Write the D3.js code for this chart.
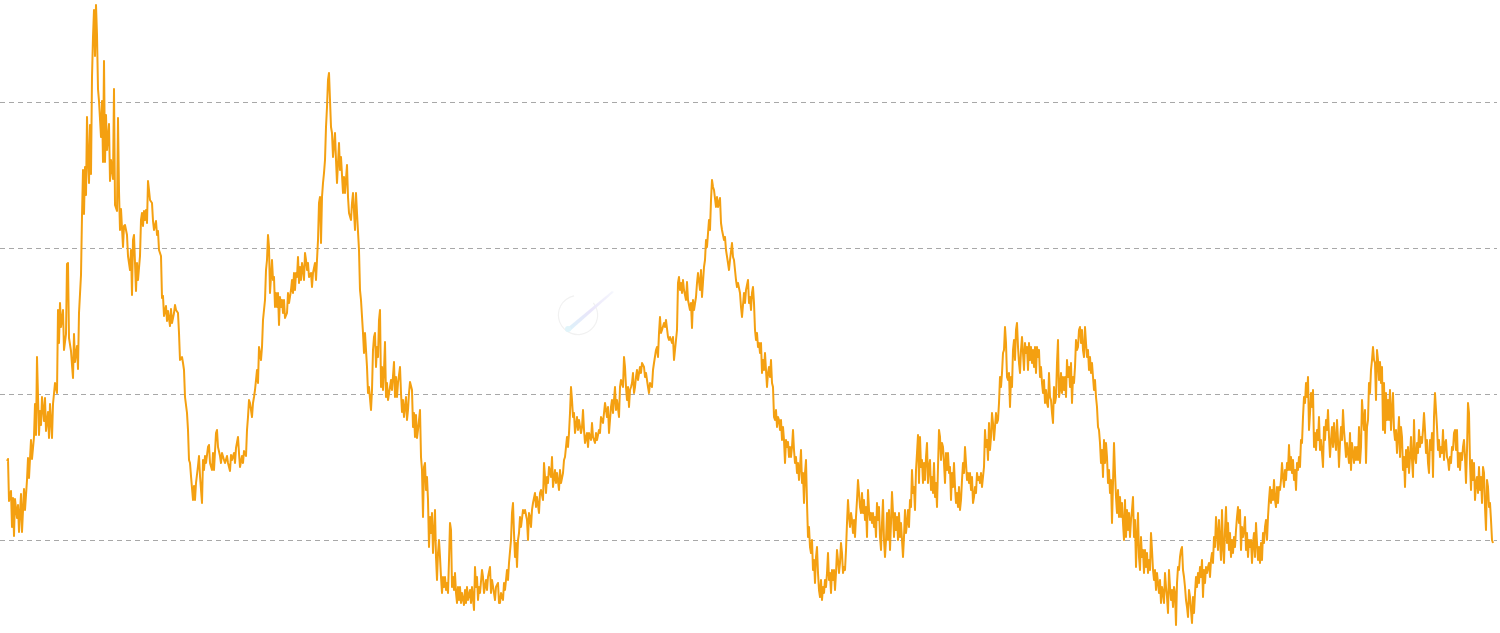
<!DOCTYPE html>
<html><head><meta charset="utf-8">
<script src="https://cdn.jsdelivr.net/npm/d3@7"></script>
<style>html,body{margin:0;padding:0;background:#fff;overflow:hidden}svg{display:block}</style>
</head><body>
<svg id="chart" width="1500" height="633"></svg>
<script>
// reference levels (split lines)
const gridLevels = [100, 246, 392, 538];

// early observations: [day, value] (irregular spacing)
const earlyObs = [
[0,179],[1,181],[2,139],[4,149],[5,113],[6,142],[7,104],[8,141],[10,122],[11,135],[12,108],[14,146],[15,108],[17,151],[18,130],[20,160],[21,182],[22,162],[24,200],[25,181],[27,203],[28,236],[29,205],[30,283],[32,205],[33,229],[34,215],[35,243],[37,219],[38,242],[39,209],[41,228],[42,202],[43,236],[45,202],[46,236],[48,257],[50,247],[51,330],[52,297],[53,337],[54,313],[56,330],[57,290],[59,306],[60,376],[61,377],[62,302],[64,289],[65,275],[66,262],[67,306],[68,278],[70,294],[71,271],[72,327],[74,365],[75,424],[76,470],[77,426],[78,473],[79,445],[80,523],[81,480],[82,457],[83,515],[84,466],[85,563],[86,603],[87,630],[88,584],[89,635],[90,605],[91,551],[92,539],[94,503],[95,539],[96,478],[97,579],[98,478],[99,525],[100,490],[102,516],[103,459],[104,480],[106,461],[107,551],[108,435],[110,429],[111,522],[112,449],[113,410],[114,431],[116,393],[117,414],
[118,415],[120,405],[121,384],[123,370],[124,390],[125,345],[126,400],[127,405],[129,349],[130,377],[131,360],[133,384],[134,420],[135,427],[136,414],[137,429],[138,420],[139,430],[140,417],[141,459],[142,450],[143,440],[145,437],[146,419],[147,410],[149,419],[150,405],[151,409],[152,390],[154,384],[155,342],[156,344],[157,324],[159,334],[160,319],[161,329],[163,314],[164,331],[165,317],[167,327],[168,335],[169,330],[171,327],[172,307],[173,280],[175,283],[176,277],[177,270],[178,243],[180,227],[181,210],[182,180],[183,177],[184,164],[186,140],[187,154],[188,140],[189,157],[191,174],[192,184],[193,164],[195,137],[196,180],[197,170],[198,184],[199,177],[201,193],[202,195],[203,177],[205,170],[206,187],[207,170],[209,207],[210,210],[211,193],[213,184],[214,177],[215,187],[217,180],[218,177],[220,184],[221,177],[223,169],[224,185],[225,180],[227,187],[228,177],[229,192],[231,203],[232,187],[233,173],[235,184],[236,177],[237,189],[239,184],[240,210],[241,223],[242,240],
[243,237],[245,223],[246,237],[247,243],[248,250],[250,270],[251,257],[252,293],[254,280],[255,293],[256,320],[258,340],[259,370],[260,380],[261,405],[262,393],[263,347],[264,363],[265,380],[266,360],[267,363],[268,333],[269,347],[270,333],[271,347],[272,315],[273,343],[274,333],[275,340],[276,327],[277,340],[278,322],[280,327],[281,347],[282,337],[284,350],[285,360],[286,347],[287,367],[288,350],[289,367],[290,363],[291,383],[292,357],[293,373],[294,360],[295,377],[296,370],[297,360],[298,387],[299,380],[300,370],[301,377],[302,363],[304,367],[305,353],[306,367],[308,377],[309,360],[310,380],[311,400],[312,437],[313,443],[314,397],[315,443],[316,457],[317,467],[318,480],[319,513],[320,533],[321,560],[322,567],[323,540],[324,513],[325,507],[326,483],[328,507],[329,480],[330,457],[332,497],[333,470],[334,483],[336,447],[337,463],[338,447],[340,475],[341,443],[342,427],[344,420],[345,437],[346,447],[348,410],[349,447],[350,427],[352,390],[353,350],[354,340],[356,307],[357,287],[358,307],[360,273],[361,247],[362,253],[364,230],[365,250],[366,290],[367,303],
[368,307],[369,273],[370,293],[371,283],[372,320],[373,330],[374,253],[375,273],[376,250],[377,270],[378,298],[379,243],[380,257],[381,240],[383,253],[384,260],[385,250],[387,278],[388,243],[389,263],[390,243],[391,257],[393,273],[394,247],[395,228],[396,240],[397,223],[399,243],[400,220],[401,230],[402,247],[403,258],[405,250],[406,213],[407,227],[408,203],[409,225],[410,202],[411,210],[413,230],[414,183],[415,170],[416,123],[417,173],[418,177],[419,150],[420,163],[421,140],[422,93],[423,123],[424,107],[425,127],[426,87],[427,107],[428,130],[429,83],[430,60],[431,87],[432,100],[433,83],[434,63],[435,47],[436,63],[437,53],[438,63],[439,50],[440,57],[441,47],[442,80],[443,117],[444,110],[445,53],[446,63],[447,50],[448,67],[449,47],[450,37],[451,53],[452,40],[453,53],[454,37],[455,47],[457,35],[458,50],[459,37],[460,53],[461,40],[463,50],[464,37],[465,53],[467,30],[468,73],[469,53],[470,63],[471,40],[472,53],[473,47],[475,70],[476,63],[477,47],[479,60],[480,50],[481,63],[483,73],[484,47],[485,60],[487,47],[488,40],[489,53],[491,57],[492,37],
[493,37],[494,47],[496,40],[497,57],[498,50],[500,70],[501,60],[502,77],[504,100],[505,127],[506,137],[507,107],[508,83],[509,97],[510,73],[511,100],[512,107],[513,123],[514,113],[516,130],[517,127],[518,130],[520,120],[521,100],[522,127],[523,123],[524,113],[525,130],[526,137],[528,147],[529,133],[530,143],[532,127],[533,147],[534,150],[536,140],[537,177],[538,163],[539,147],[540,163],[541,157],[542,173],[544,163],[545,183],[546,153],[548,170],[549,157],[550,167],[552,150],[553,170],[554,157],[556,167],[557,180],[558,183],[560,203],[561,193],[562,207],[563,227],[564,253],[565,240],[566,223],[567,227],[568,207],[570,223],[571,210],[572,220],[574,207],[575,213],[576,230],[577,210],[578,197],[580,207],[581,193],[582,207],[584,200],[585,217],[586,203],[588,197],[589,207],[590,200],[592,210],[593,207],[594,223],[596,217],[597,227],[598,237],[600,223],[601,233],[602,207],[604,233],[605,240],[606,227],[608,253],[609,230],[610,240],[612,223],[613,253],[614,260],[616,253],[617,283],
[618,273],[619,253],[620,240],[621,253],[622,233],[623,250],[624,253],[625,257],[626,267],[627,247],[628,253],[629,263],[630,270],[631,260],[633,273],[634,267],[635,277],[637,273],[638,263],[639,267],[641,253],[642,247],[643,257],[645,253],[646,270],[647,277],[649,290],[650,293],[651,283],[652,307],[653,323],[654,307],[655,310],[657,317],[658,313],[659,320],[661,303],[662,300],[663,303],[665,297],[666,303],[667,280],[669,300],[670,310],[671,357],[672,363],[673,350],[674,357],[675,347],[676,360],[677,350],[679,340],[680,358],[681,340],[683,330],[684,337],[685,312],[686,340],[687,330],[689,343],[690,357],[691,367],[693,350],[694,370],[695,343],[697,373],[698,380],[699,400],[700,393],[702,420],[703,410],[704,440],[705,460],[706,453],[707,450],[709,433],[710,443],[711,433],[713,442],[714,417],[715,410],[717,400],[718,403],[719,390],[721,377],[722,370],[723,380],[725,397],[726,383],[727,380],[729,360],[730,353],[731,357],[733,347],[734,333],[735,323],[737,347],[738,337],[739,350],[741,360],[742,337]
];

// daily observations from day 743 onward
const dailyStartDay = 743;
const dailyValues = [
343,330,347,353,337,310,300,307,293,297,
287,297,267,280,270,287,270,253,267,273,
263,280,257,253,223,220,230,213,223,220,
210,220,200,213,200,177,200,193,198,183,
193,183,193,210,190,177,183,167,177,160,
173,190,157,167,137,167,180,137,103,113,
93,87,100,70,80,57,83,93,67,50,
43,60,40,53,47,60,53,67,87,60,
67,47,70,60,70,50,67,90,80,67,
77,97,87,67,73,70,90,117,140,123,
113,127,120,107,120,103,123,140,160,147,
133,127,147,127,140,120,133,103,150,130,
120,127,117,127,113,123,103,137,120,133,
103,90,117,140,100,83,100,127,100,130,
90,117,148,127,103,127,110,123,100,127,
103,117,100,83,103,130,107,117,130,113,
140,133,170,147,153,130,170,187,205,157,
203,173,180,157,177,160,183,197,157,173,
180,150,163,147,177,143,157,133,173,210,
203,180,197,193,177,157,187,170,187,167,
173,140,167,153,177,153,137,147,133,153,
130,140,160,177,167,193,177,160,167,157,
167,150,163,137,143,153,147,167,160,163,
157,167,153,163,173,210,193,200,180,217,
190,203,227,217,200,213,227,217,220,237,
263,253,267,287,290,313,297,263,260,267,
233,263,253,290,300,280,310,317,293,277,
267,290,303,287,270,297,287,293,270,297,
280,293,277,290,273,293,267,293,283,290,
263,273,257,247,260,237,250,237,233,267,
243,240,227,217,253,237,243,277,300,243,
250,267,247,263,250,263,243,280,263,273,
253,277,237,263,257,273,300,290,293,310,
313,297,310,290,283,313,297,283,290,270,
283,267,277,263,250,260,243,233,213,210,
197,177,190,163,200,177,197,183,157,170,
147,160,117,157,197,167,143,127,150,123,
143,123,137,117,100,140,103,130,110,127,
103,120,130,143,103,120,73,103,127,83,
70,103,83,90,67,90,73,87,67,80,
70,107,90,70,60,70,50,67,57,47,
60,37,53,47,37,67,53,43,27,70,
53,40,50,33,53,47,15,57,73,70,
83,90,93,70,63,53,40,33,23,50,
43,30,17,43,27,47,63,53,67,57,
73,63,80,43,70,57,73,67,73,77,
63,80,87,77,103,93,123,107,90,120,
100,80,130,93,77,110,133,97,117,90,
107,83,100,87,103,93,110,123,133,117,
130,90,113,103,110,123,90,107,83,100,
93,100,77,97,107,83,117,97,80,93,
77,97,80,107,97,113,120,100,123,140,
153,137,150,140,160,140,133,153,137,153,
150,160,177,163,153,170,160,177,170,195,
170,183,167,180,160,170,150,177,170,183,
173,200,197,223,243,237,257,243,263,210,
227,247,233,250,193,207,190,210,200,223,
190,200,187,173,213,200,220,210,230,203,
183,200,213,193,217,200,190,220,200,173,
197,213,200,230,210,197,183,197,187,177,
207,170,197,187,177,193,180,193,180,213,
177,193,240,223,210,230,177,213,220,257,
247,270,280,293,280,277,240,290,280,260,
278,257,273,210,257,207,247,220,240,220,
250,210,230,247,210,200,210,187,203,223,
183,213,203,170,183,153,190,173,193,167,
183,203,180,163,220,183,177,197,187,210,
193,203,197,210,227,210,187,200,177,167,
200,190,207,163,223,247,230,213,190,200,
183,193,187,210,180,197,200,183,180,170,
183,177,193,190,207,210,190,210,173,187,
170,187,180,193,200,183,157,190,237,227,
177,150,180,160,177,140,157,163,147,173,
150,163,137,173,167,133,110,160,153,133,
137,120,100,97
];

const series = earlyObs.concat(dailyValues.map((v, i) => [dailyStartDay + i, v]));
const lastDay = series[series.length - 1][0];

const svg = d3.select('#chart');
const x = d3.scaleLinear().domain([0, lastDay]).range([7, 1493]);
const y = d3.scaleLinear().domain(d3.extent(series, d => d[1])).range([625, 5]);

// split lines
svg.append('g').selectAll('line').data(gridLevels).join('line')
  .attr('x1', 0).attr('x2', 1497)
  .attr('y1', d => Math.round(y(d)) + 0.5).attr('y2', d => Math.round(y(d)) + 0.5)
  .attr('stroke', '#a8a8a8').attr('stroke-width', 1).attr('stroke-dasharray', '5,4');

// faint watermark logo
const defs = svg.append('defs');
const grad = defs.append('linearGradient').attr('id', 'comet').attr('x1', '0%').attr('y1', '100%').attr('x2', '100%').attr('y2', '0%');
grad.append('stop').attr('offset', '0%').attr('stop-color', '#bfe8f5');
grad.append('stop').attr('offset', '50%').attr('stop-color', '#d9d2f7');
grad.append('stop').attr('offset', '100%').attr('stop-color', '#eef0fb');
const wm = svg.append('g').attr('opacity', 0.55);
const arc = d3.arc().innerRadius(19).outerRadius(20.2).startAngle(0.9).endAngle(2 * Math.PI - 0.2);
wm.append('path').attr('transform', 'translate(578,315)').attr('d', arc()).attr('fill', '#e6e6e6');
wm.append('path').attr('d', 'M566,329 L612,291 L614,292 L570,331 Z').attr('fill', 'url(#comet)');
wm.append('circle').attr('cx', 568).attr('cy', 329).attr('r', 3).attr('fill', '#c9ecf6');

// series line
const line = d3.line().x(d => x(d[0])).y(d => y(d[1]));
svg.append('path').datum(series)
  .attr('fill', 'none').attr('stroke', '#f4a011').attr('stroke-width', 2)
  .attr('stroke-linejoin', 'round').attr('d', line);
</script>
</body></html>
